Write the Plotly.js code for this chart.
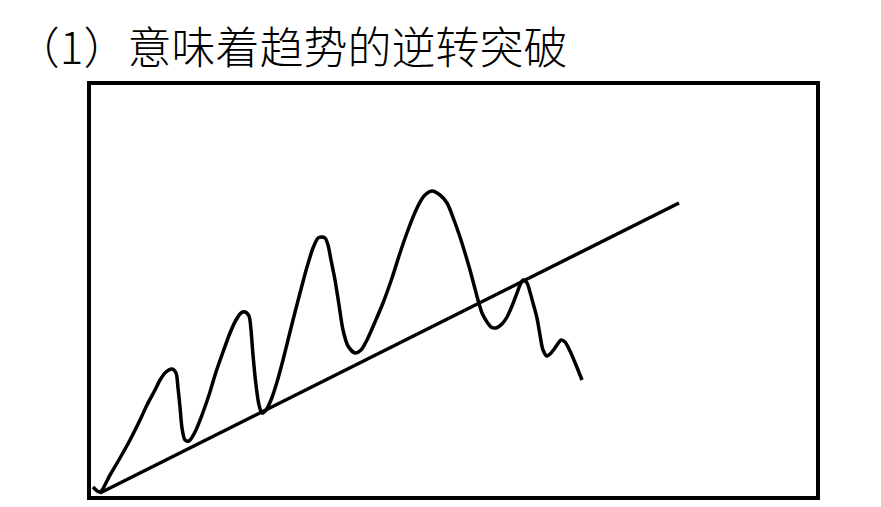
<!DOCTYPE html>
<html>
<head>
<meta charset="utf-8">
<script src="https://cdn.plot.ly/plotly-3.0.1.min.js"></script>
<style>html,body{margin:0;padding:0;background:#fff;}#chart{width:881px;height:507px;}</style>
</head>
<body>
<div id="chart"></div>
<script>
// Price path (x: time units, y: price units)
const priceX = [2,9,19,29,39,49,56,64,69,75,81,85,87,89,91,94,98,104,111,118,125,132,139,145,150,154,158,160,162,165,168,171,175,180,186,192,197,202,209,216,222,227,230,234,237,240,244,248,252,257,264,270,276,284,292,301,309,317,326,333,341,349,356,363,369,374,379,383,387,391,396,400,405,411,416,421,426,429,432,436,439,442,446,449,452,456,460,466,470,474,479,485,491];
const priceY = [9,4,21,38,56,76,91,106,116,124,127,123,108,89,68,56,55,64,81,101,124,144,163,176,183,184,180,166,141,111,91,83,86,96,114,136,156,176,203,229,248,258,259,258,251,236,216,191,166,150,143,146,156,174,193,218,243,266,288,300,305,301,293,276,259,243,226,211,196,183,174,169,168,172,179,190,203,211,216,213,204,193,178,161,146,140,143,151,156,154,145,131,116];
// Up-trend line endpoints
const trendX = [9,588];
const trendY = [3,293];
const titleText = "（1）意味着趋势的逆转突破";

const data = [
  {x: priceX, y: priceY, type: 'scatter', mode: 'lines',
   line: {color: '#000', width: 3.5, shape: 'spline', smoothing: 0.8}, hoverinfo: 'skip'},
  {x: trendX, y: trendY, type: 'scatter', mode: 'lines',
   line: {color: '#000', width: 3.5}, hoverinfo: 'skip'}
];
const axisCommon = {showline: true, mirror: true, linewidth: 4, linecolor: '#000',
  showgrid: false, zeroline: false, showticklabels: false, ticks: '', fixedrange: true};
const layout = {
  width: 881, height: 507,
  margin: {l: 91, r: 65, t: 85, b: 11},
  paper_bgcolor: '#fff', plot_bgcolor: '#fff',
  showlegend: false,
  title: {text: titleText, font: {family: 'Noto Sans CJK SC', size: 44, color: '#000', weight: 300},
    x: 0.018, xref: 'container', xanchor: 'left', y: 0.905, yref: 'container', yanchor: 'middle'},
  xaxis: Object.assign({range: [0, 725]}, axisCommon),
  yaxis: Object.assign({range: [0, 411]}, axisCommon)
};
Plotly.newPlot('chart', data, layout, {staticPlot: true});
</script>
</body>
</html>
